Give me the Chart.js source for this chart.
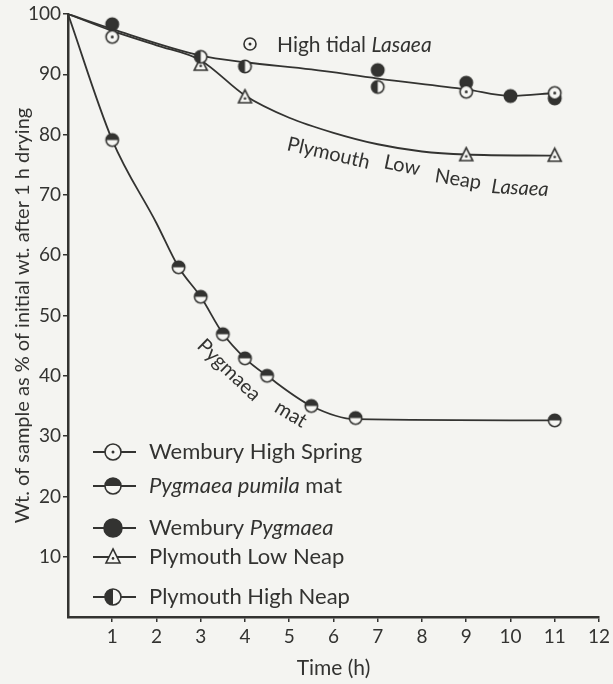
<!DOCTYPE html>
<html>
<head>
<meta charset="utf-8">
<script src="https://cdn.jsdelivr.net/npm/chart.js@4"></script>
<style>
  html, body { margin: 0; padding: 0; background: #f4f4f1; }
  #wrap { width: 613px; height: 684px; }
</style>
</head>
<body>
<div id="wrap"><canvas id="chart" width="613" height="684"></canvas></div>
<script>
// values: time (h) and weight (% of initial wt.)
const highSpringT = [1, 9, 11];
const highSpringW = [96.2, 87.1, 86.9];

const pygmaeaMatT = [1, 2.5, 3, 3.5, 4, 4.5, 5.5, 6.5, 11];
const pygmaeaMatW = [79.1, 58.0, 53.1, 46.9, 42.9, 40.0, 35.0, 33.0, 32.6];

const wemburyPygT = [1, 7, 9, 10, 11];
const wemburyPygW = [98.3, 90.7, 88.6, 86.4, 86.0];

const lowNeapT = [3, 4, 9, 11];
const lowNeapW = [91.6, 86.2, 76.6, 76.5];

const highNeapT = [3, 4, 7];
const highNeapW = [92.9, 91.3, 87.9];

// hand drawn fitted curves
const highTidalCurveT = [0, 1, 3, 4, 5.5, 7, 9, 10, 11];
const highTidalCurveW = [100, 97.5, 93.1, 92.0, 90.8, 89.3, 87.5, 86.4, 86.9];

const lowNeapCurveT = [0, 1, 2, 3, 4, 5, 6, 7, 8, 9, 11];
const lowNeapCurveW = [100, 97.2, 94.8, 92.3, 86.5, 82.8, 80.3, 78.4, 77.2, 76.7, 76.5];

const pygmaeaCurveT = [0, 1, 2, 2.5, 3, 3.5, 4, 4.5, 5.5, 6.5, 11];
const pygmaeaCurveW = [100, 79.1, 65.3, 58.0, 53.1, 47.0, 42.9, 40.0, 35.0, 32.8, 32.6];

const xTicks = [1, 2, 3, 4, 5, 6, 7, 8, 9, 10, 11, 12];
const yTicks = [10, 20, 30, 40, 50, 60, 70, 80, 90, 100];

const INK = '#333331';
const PAPER = '#f6f6f3';
const FONT = 'Lato';

function pts(t, w) {
  return t.map((x, i) => ({ x: x, y: w[i] }));
}

function drawMarker(ctx, type, cx, cy, r) {
  ctx.save();
  ctx.lineWidth = 1.6;
  ctx.strokeStyle = INK;
  ctx.fillStyle = PAPER;
  if (type === 'tri') {
    ctx.beginPath();
    ctx.moveTo(cx, cy - r * 1.15);
    ctx.lineTo(cx + r, cy + r * 0.85);
    ctx.lineTo(cx - r, cy + r * 0.85);
    ctx.closePath();
    ctx.fill();
    ctx.stroke();
    ctx.fillStyle = INK;
    ctx.beginPath();
    ctx.arc(cx, cy + r * 0.2, 1.3, 0, Math.PI * 2);
    ctx.fill();
  } else {
    ctx.beginPath();
    ctx.arc(cx, cy, r, 0, Math.PI * 2);
    ctx.fill();
    ctx.fillStyle = INK;
    if (type === 'filled') {
      ctx.fill();
    } else if (type === 'top') {
      ctx.beginPath();
      ctx.arc(cx, cy, r, Math.PI, Math.PI * 2);
      ctx.closePath();
      ctx.fill();
    } else if (type === 'left') {
      ctx.beginPath();
      ctx.arc(cx, cy, r, Math.PI / 2, Math.PI * 1.5);
      ctx.closePath();
      ctx.fill();
    }
    ctx.beginPath();
    ctx.arc(cx, cy, r, 0, Math.PI * 2);
    ctx.stroke();
    if (type === 'dot') {
      ctx.beginPath();
      ctx.arc(cx, cy, 1.5, 0, Math.PI * 2);
      ctx.fill();
    }
  }
  ctx.restore();
}

function markerCanvas(type, r) {
  const c = document.createElement('canvas');
  const s = Math.ceil(r * 2 + 6);
  c.width = s;
  c.height = s;
  drawMarker(c.getContext('2d'), type, s / 2, s / 2, r);
  return c;
}

const series = [
  { name: 'Wembury High Spring', t: highSpringT, w: highSpringW, type: 'dot', order: 3 },
  { name: 'Pygmaea pumila mat', t: pygmaeaMatT, w: pygmaeaMatW, type: 'top', order: 1 },
  { name: 'Wembury Pygmaea', t: wemburyPygT, w: wemburyPygW, type: 'filled', order: 4 },
  { name: 'Plymouth Low Neap', t: lowNeapT, w: lowNeapW, type: 'tri', order: 5 },
  { name: 'Plymouth High Neap', t: highNeapT, w: highNeapW, type: 'left', order: 2 }
];

const legendRuns = [
  [['Wembury High Spring', false]],
  [['Pygmaea pumila', true], [' mat', false]],
  [['Wembury ', false], ['Pygmaea', true]],
  [['Plymouth Low Neap', false]],
  [['Plymouth High Neap', false]]
];
const legendRowY = [452, 486, 528, 557, 597];

function curve(t, w) {
  return {
    type: 'line',
    data: pts(t, w),
    borderColor: INK,
    borderWidth: 1.8,
    pointRadius: 0,
    fill: false,
    cubicInterpolationMode: 'monotone',
    order: 10
  };
}

const datasets = [
  curve(highTidalCurveT, highTidalCurveW),
  curve(lowNeapCurveT, lowNeapCurveW),
  curve(pygmaeaCurveT, pygmaeaCurveW)
];
series.forEach(s => {
  datasets.push({
    type: 'scatter',
    label: s.name,
    data: pts(s.t, s.w),
    showLine: false,
    pointStyle: markerCanvas(s.type, s.type === 'tri' ? 6.5 : 6.2),
    pointRadius: 7,
    order: s.order
  });
});

function runs(ctx, x, y, list, size) {
  list.forEach(r => {
    ctx.font = (r[1] ? 'italic ' : '') + size + 'px ' + FONT;
    ctx.fillText(r[0], x, y);
    x += ctx.measureText(r[0]).width;
  });
}

function rotText(ctx, text, x, y, deg, size, italic) {
  ctx.save();
  ctx.translate(x, y);
  ctx.rotate(deg * Math.PI / 180);
  ctx.font = (italic ? 'italic ' : '') + size + 'px ' + FONT;
  ctx.fillText(text, 0, 0);
  ctx.restore();
}

const paper = {
  id: 'paper',
  beforeDraw(chart) {
    const ctx = chart.ctx;
    ctx.save();
    ctx.fillStyle = '#f4f4f1';
    ctx.fillRect(0, 0, chart.width, chart.height);
    ctx.restore();
  }
};

const notes = {
  id: 'notes',
  afterDatasetsDraw(chart) {
    const ctx = chart.ctx;
    ctx.save();
    ctx.fillStyle = INK;
    ctx.strokeStyle = INK;

    // legend inside the plot
    ctx.textBaseline = 'middle';
    ctx.textAlign = 'left';
    series.forEach((s, i) => {
      const y = legendRowY[i];
      ctx.lineWidth = 2;
      ctx.beginPath();
      ctx.moveTo(93, y);
      ctx.lineTo(136, y);
      ctx.stroke();
      const r = s.type === 'filled' ? 9 : (s.type === 'tri' ? 7 : 8);
      drawMarker(ctx, s.type, 113, y, r);
      runs(ctx, 149, y, legendRuns[i], 22);
    });

    // curve labels
    drawMarker(ctx, 'dot', 250, 44, 6);
    runs(ctx, 277, 45, [['High tidal ', false], ['Lasaea', true]], 21);

    ctx.textBaseline = 'alphabetic';
    rotText(ctx, 'Plymouth', 286, 150, 13, 20, false);
    rotText(ctx, 'Low', 383, 168, 12, 20, false);
    rotText(ctx, 'Neap', 434, 182, 9, 20, false);
    rotText(ctx, 'Lasaea', 491, 193, 3, 20, true);

    ctx.textBaseline = 'middle';
    ctx.textAlign = 'center';
    rotText(ctx, 'Pygmaea', 229, 370, 44, 20, false);
    rotText(ctx, 'mat', 291, 414, 31, 20, false);
    ctx.restore();
  }
};

const ctx = document.getElementById('chart').getContext('2d');
Chart.defaults.font.family = FONT;
Chart.defaults.color = INK;

new Chart(ctx, {
  type: 'scatter',
  data: { datasets: datasets },
  options: {
    responsive: false,
    animation: false,
    layout: { padding: { top: 14, right: 10, bottom: 0, left: 0 } },
    plugins: { legend: { display: false }, tooltip: { enabled: false } },
    scales: {
      x: {
        type: 'linear',
        min: 0,
        max: 12,
        afterFit: s => { s.height = 67; },
        afterBuildTicks: s => { s.ticks = [0].concat(xTicks).map(v => ({ value: v })); },
        ticks: {
          autoSkip: false,
          maxRotation: 0,
          padding: 3,
          font: { size: 19 },
          color: INK,
          callback: v => (v === 0 ? '' : v)
        },
        grid: {
          drawOnChartArea: false,
          tickLength: 5,
          tickColor: c => (c.tick && c.tick.value === 0 ? 'rgba(0,0,0,0)' : INK),
          lineWidth: 1.5
        },
        border: { color: INK, width: 2.5 },
        title: {
          display: true,
          text: 'Time (h)',
          font: { size: 21 },
          color: INK,
          padding: { top: 0, bottom: 3 }
        }
      },
      y: {
        type: 'linear',
        min: 0,
        max: 100,
        afterFit: s => { s.width = 68; },
        afterBuildTicks: s => { s.ticks = [0].concat(yTicks).map(v => ({ value: v })); },
        ticks: {
          padding: 2,
          font: { size: 19, lineHeight: 1 },
          color: INK,
          callback: v => (v === 0 ? '' : v)
        },
        grid: {
          drawOnChartArea: false,
          tickLength: 5,
          tickColor: c => (c.tick && c.tick.value === 0 ? 'rgba(0,0,0,0)' : INK),
          lineWidth: 1.5
        },
        border: { color: INK, width: 2.5 },
        title: {
          display: true,
          text: 'Wt. of sample as % of initial wt. after 1 h drying',
          font: { size: 20 },
          color: INK,
          padding: { top: 11, bottom: 0 }
        }
      }
    }
  },
  plugins: [paper, notes]
});
</script>
</body>
</html>
